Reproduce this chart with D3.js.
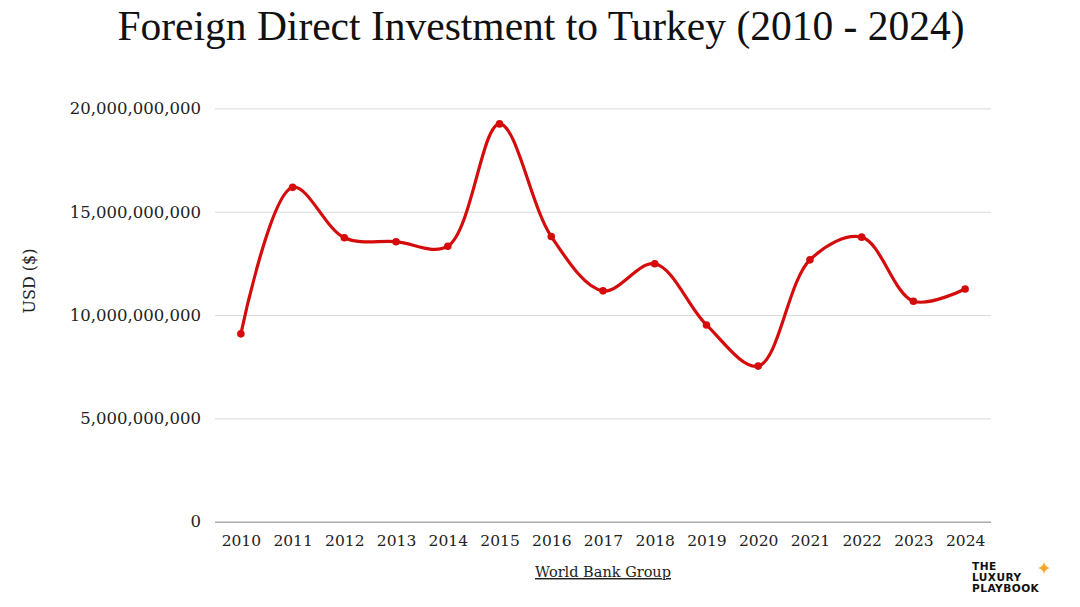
<!DOCTYPE html>
<html><head><meta charset="utf-8">
<script src="https://cdn.jsdelivr.net/npm/d3@7"></script>
<style>body{margin:0;background:#fff}svg{display:block}</style>
</head><body>
<svg id="c" width="1080" height="607"></svg>
<script>
const years = ["2010","2011","2012","2013","2014","2015","2016","2017","2018","2019","2020","2021","2022","2023","2024"];
const fdi = [9.09e9,16.18e9,13.74e9,13.55e9,13.33e9,19.25e9,13.8e9,11.17e9,12.48e9,9.52e9,7.53e9,12.67e9,13.77e9,10.67e9,11.26e9];
const yTicks = [0,5e9,10e9,15e9,20e9];
const titleText = "Foreign Direct Investment to Turkey (2010 - 2024)";
const yLabel = "USD ($)";
const sourceText = "World Bank Group";
const logoLines = ["THE","LUXURY","PLAYBOOK"];

const svg = d3.select("#c");
const m = {l:215, r:991, t:108.4, b:521.7};
const x = d3.scalePoint().domain(years).range([m.l, m.r]).padding(0.5);
const y = d3.scaleLinear().domain([0,20e9]).range([m.b, m.t]);
const serif = "'Liberation Serif', serif";
const serif2 = "'DejaVu Serif', serif";

svg.append("text").attr("x",541).attr("y",40).attr("text-anchor","middle")
  .attr("font-family",serif).attr("font-size",41.5).attr("fill","#111").text(titleText);

// grid
const grid = svg.append("g").attr("transform",`translate(${m.l},0)`)
  .call(d3.axisLeft(y).tickValues(yTicks).tickSize(-(m.r-m.l)).tickFormat(""));
grid.select(".domain").remove();
grid.selectAll(".tick line").attr("stroke","#d9d9d9").attr("stroke-width",1);
grid.selectAll(".tick").filter(d=>d===0).select("line").attr("stroke","#aaaaaa").attr("stroke-width",1.5);

// y labels
const ya = svg.append("g").attr("transform",`translate(${m.l},0)`)
  .call(d3.axisLeft(y).tickValues(yTicks).tickSize(0).tickPadding(14).tickFormat(d3.format(",")));
ya.select(".domain").remove();
ya.selectAll("text").attr("font-family",serif2).attr("font-size",16.5).attr("fill","#222");

// x labels
const xa = svg.append("g").attr("transform",`translate(0,${m.b})`)
  .call(d3.axisBottom(x).tickSize(0).tickPadding(13));
xa.select(".domain").remove();
xa.selectAll("text").attr("font-family",serif2).attr("font-size",15.5).attr("fill","#222");

svg.append("text").attr("transform","translate(35,281) rotate(-90)").attr("text-anchor","middle")
  .attr("font-family",serif2).attr("font-size",16).attr("fill","#222").text(yLabel);

svg.append("text").attr("x",603).attr("y",577).attr("text-anchor","middle")
  .attr("font-family",serif2).attr("font-size",14.5).attr("fill","#222")
  .attr("text-decoration","underline").text(sourceText);

// line
const line = d3.line().x((d,i)=>x(years[i])).y(d=>y(d)).curve(d3.curveCatmullRom.alpha(0.5));
svg.append("path").datum(fdi).attr("d",line).attr("fill","none")
  .attr("stroke","#d40c0c").attr("stroke-width",3.2).attr("stroke-linejoin","round");
svg.selectAll("circle.pt").data(fdi).join("circle").attr("class","pt")
  .attr("cx",(d,i)=>x(years[i])).attr("cy",d=>y(d)).attr("r",3.8).attr("fill","#d40c0c");

// logo
logoLines.forEach((t,i)=>{
  svg.append("text").attr("x",972).attr("y",570+i*10.9).attr("font-family","'DejaVu Sans', sans-serif")
    .attr("font-weight",700).attr("font-size",10.6).attr("fill","#111").attr("letter-spacing",0.45).text(t);
});
svg.append("path").attr("d","M1044,562 Q1045,567 1050,568 Q1045,569 1044,574 Q1043,569 1038,568 Q1043,567 1044,562 Z")
  .attr("fill","#f6a623");
</script>
</body></html>
